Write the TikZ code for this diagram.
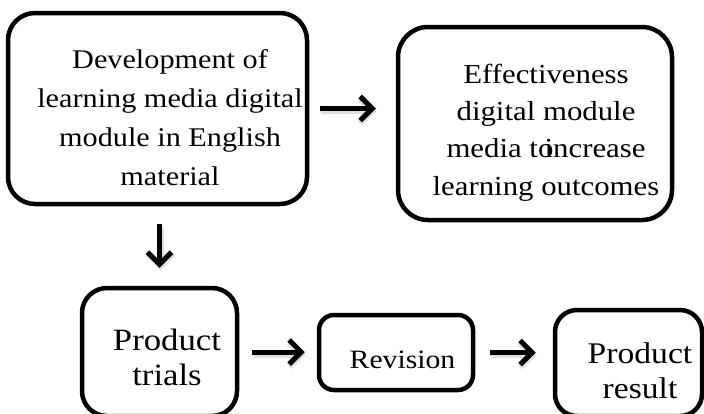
\documentclass[tikz,border=0pt]{standalone}
\usepackage{fontspec}
\setmainfont{Liberation Serif}[FakeStretch=1.12]
\usetikzlibrary{arrows.meta}
\newcommand\setfs[2]{\fontsize{#1pt}{#2pt}\selectfont}
\begin{document}
\begin{tikzpicture}[x=1pt,y=-1pt,
  box/.style={draw, line width=4.5pt, rounded corners=#1, inner sep=0pt},
  lbl/.style={inner sep=0pt, align=center, anchor=base},
  tip/.style={-{Straight Barb[length=12pt,width=24pt]}},
  arr/.style={line width=5pt, tip,
    preaction={draw=black, opacity=0.12, line width=6.5pt, transform canvas={shift={(1pt,-2.5pt)}}}},
]
\useasboundingbox (0,0) rectangle (704,413);
\clip (0,0) rectangle (704,413);

% texts (anchored at the baseline of their last line)
\node[lbl, font=\setfs{27}{39}] (t1) at (170,185)
  {Development of\\learning media digital\\module in English\\material};
\node[lbl, font=\setfs{27.5}{37.3}] (t2) at (546,195)
  {Effectiveness\\digital module\\media to\hspace{-0.32em}increase\\learning outcomes};
\node[lbl, font=\setfs{31}{35}] (t3) at (167,385) {Product\\trials};
\node[lbl, font=\setfs{26.5}{35}] (t4) at (402.5,368) {Revision};
\node[lbl, font=\setfs{30}{35}] (t5) at (640,398) {Product\\result};

% boxes
\node[box=27pt, minimum width=299pt, minimum height=191pt] (b1) at (157.5,108.5) {};
\node[box=30pt, minimum width=274pt, minimum height=193pt] (b2) at (535,123.5) {};
\node[box=25pt, minimum width=155pt, minimum height=128pt] (b3) at (159.5,352) {};
\node[box=15pt, minimum width=154pt, minimum height=75pt] (b4) at (396,352.5) {};
\node[box=22pt, minimum width=147pt, minimum height=106pt] (b5) at (628.5,363) {};

% connectors
\draw[arr] ([xshift=11pt]b1.east) -- ([xshift=-20pt]b1.east -| b2.west);
\draw[arr] ([yshift=-18pt]b1.south -| b3.north) -- ([yshift=18pt]b3.north);
\draw[arr] ([xshift=13pt]b3.east) -- ([xshift=-12pt]b3.east -| b4.west);
\draw[arr] ([xshift=15pt]b4.east) -- ([xshift=-17pt]b4.east -| b5.west);
\end{tikzpicture}
\end{document}
